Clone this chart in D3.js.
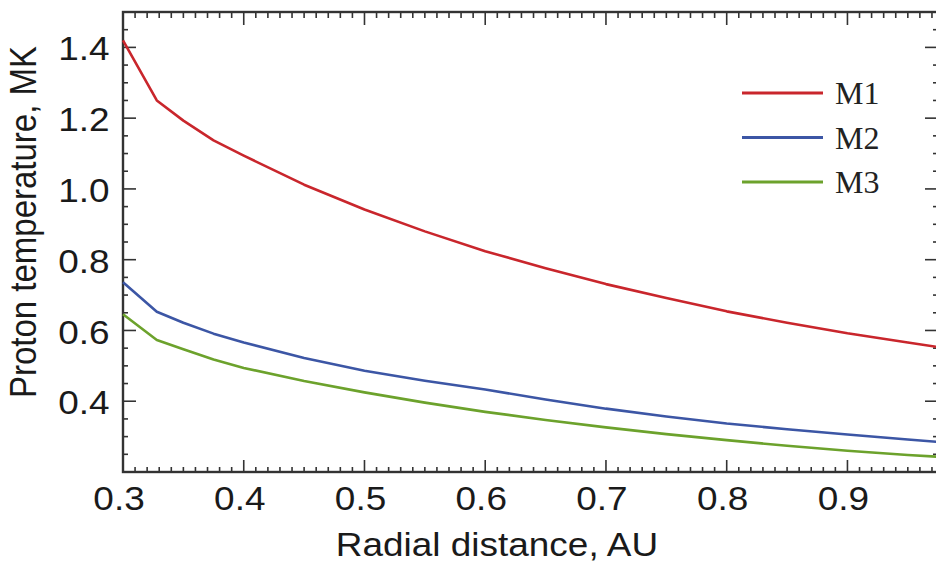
<!DOCTYPE html>
<html>
<head>
	<title>Proton temperature vs radial distance</title>
	<style>
		body { margin: 0; background: #fff; }
		svg { display: block; }
		.tick text { font-family: "Liberation Sans", Arial, sans-serif; fill: #1a1a1a; }
	</style>
</head>
<body>
<svg id="chart" width="936" height="563"></svg>

<script src="https://cdnjs.cloudflare.com/ajax/libs/d3/7.8.5/d3.min.js"></script>
<script>

	// radial distance, AU
	var radius = [0.30, 0.328, 0.35, 0.375, 0.40, 0.45, 0.50, 0.55, 0.60, 0.65, 0.70, 0.75, 0.80, 0.85, 0.90, 0.95, 0.975];
	// proton temperature, MK
	var m1 = [1.42, 1.25, 1.193, 1.137, 1.094, 1.012, 0.942, 0.880, 0.824, 0.776, 0.731, 0.692, 0.654, 0.622, 0.592, 0.566, 0.553];
	var m2 = [0.736, 0.653, 0.622, 0.591, 0.566, 0.522, 0.486, 0.458, 0.433, 0.405, 0.379, 0.357, 0.337, 0.321, 0.306, 0.292, 0.285];
	var m3 = [0.646, 0.573, 0.547, 0.518, 0.494, 0.457, 0.425, 0.396, 0.370, 0.347, 0.326, 0.307, 0.290, 0.274, 0.260, 0.248, 0.243];

	var seriesNames = ["M1", "M2", "M3"];
	var seriesColors = ["#c9262c", "#3c56a5", "#6ca22c"];

	var xMajor = [0.3, 0.4, 0.5, 0.6, 0.7, 0.8, 0.9];
	var yMajor = [0.4, 0.6, 0.8, 1.0, 1.2, 1.4];

	var svg = d3.select("#chart"),
	    pLeft = 123, pTop = 12, pRight = 938, pBottom = 472,
	    axisColor = "#333",
	    stretch = "scale(1.12,1)";

	var x = d3.scaleLinear().domain([0.3, 0.975]).range([pLeft, pRight]);
	var y = d3.scaleLinear().domain([0.2, 1.5]).range([pBottom, pTop]);

	var xMinor = d3.range(0.30, 0.976, 0.01);
	var yMinor = d3.range(0.20, 1.5, 0.05);

	function isMajor(v, majors) {
		return majors.some(function(m) { return Math.abs(m - v) < 1e-6; });
	}

	// ticks on all four sides
	var ticks = svg.append("g").attr("stroke", axisColor).attr("stroke-width", 1.6);
	xMinor.forEach(function(v) {
		var big = isMajor(v, xMajor);
		ticks.append("line").attr("x1", x(v)).attr("x2", x(v)).attr("y1", pBottom).attr("y2", pBottom - (big ? 12 : 5));
		ticks.append("line").attr("x1", x(v)).attr("x2", x(v)).attr("y1", pTop).attr("y2", pTop + (big ? 13 : 6));
	});
	yMinor.forEach(function(v) {
		var len = isMajor(v, yMajor) ? 13 : 5;
		ticks.append("line").attr("y1", y(v)).attr("y2", y(v)).attr("x1", pLeft).attr("x2", pLeft + len);
		ticks.append("line").attr("y1", y(v)).attr("y2", y(v)).attr("x1", pRight).attr("x2", pRight - len);
	});

	// axes with labels
	var xAxis = svg.append("g")
		.attr("transform", "translate(0," + pBottom + ")")
		.call(d3.axisBottom(x).tickValues(xMajor).tickSize(0).tickPadding(15).tickFormat(d3.format(".1f")));
	xAxis.select(".domain").remove();
	xAxis.selectAll("text")
		.attr("font-size", 33)
		.attr("dx", -4)
		.attr("transform", stretch);

	var yAxis = svg.append("g")
		.attr("transform", "translate(" + pLeft + ",0)")
		.call(d3.axisLeft(y).tickValues(yMajor).tickSize(0).tickPadding(12).tickFormat(d3.format(".1f")));
	yAxis.select(".domain").remove();
	yAxis.selectAll("text")
		.attr("font-size", 33)
		.attr("dy", "0.38em")
		.attr("transform", stretch);

	// frame
	svg.append("rect")
		.attr("x", pLeft).attr("y", pTop)
		.attr("width", pRight - pLeft).attr("height", pBottom - pTop)
		.attr("fill", "none")
		.attr("stroke", axisColor)
		.attr("stroke-width", 2.4);

	// curves
	var line = d3.line()
		.x(function(d) { return x(d[0]); })
		.y(function(d) { return y(d[1]); });

	[m1, m2, m3].forEach(function(vals, i) {
		svg.append("path")
			.datum(radius.map(function(r, j) { return [r, vals[j]]; }))
			.attr("fill", "none")
			.attr("stroke", seriesColors[i])
			.attr("stroke-width", 2.6)
			.attr("stroke-linejoin", "round")
			.attr("d", line);
	});

	// legend
	var legend = svg.append("g");
	seriesNames.forEach(function(name, i) {
		var ly = 93 + i * 44.5;
		legend.append("line")
			.attr("x1", 742).attr("x2", 823)
			.attr("y1", ly).attr("y2", ly)
			.attr("stroke", seriesColors[i])
			.attr("stroke-width", 2.8);
		legend.append("text")
			.attr("x", 835).attr("y", ly + 11)
			.attr("font-family", "'Liberation Serif', 'Times New Roman', serif")
			.attr("font-size", 32)
			.attr("fill", "#222")
			.text(name);
	});

	// axis titles
	svg.append("text")
		.attr("transform", "translate(497,556) " + stretch)
		.attr("text-anchor", "middle")
		.attr("font-family", "'Liberation Sans', Arial, sans-serif")
		.attr("font-size", 33)
		.attr("fill", "#1a1a1a")
		.text("Radial distance, AU");

	svg.append("text")
		.attr("transform", "translate(36,222) " + stretch + " rotate(-90)")
		.attr("text-anchor", "middle")
		.attr("font-family", "'Liberation Sans', Arial, sans-serif")
		.attr("font-size", 33)
		.attr("fill", "#1a1a1a")
		.text("Proton temperature, MK");

</script>
</body>
</html>
